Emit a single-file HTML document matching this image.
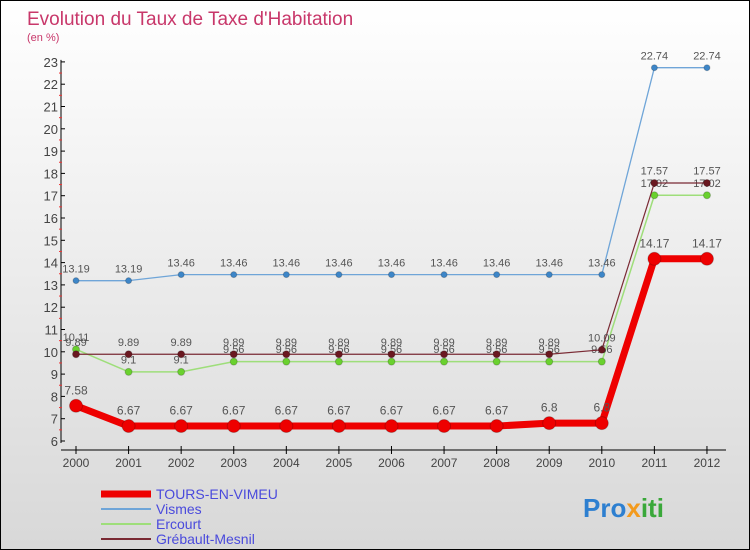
<!DOCTYPE html>
<html><head><meta charset="utf-8"><style>
body{margin:0}
#c{width:750px;height:550px;position:relative;box-sizing:border-box;border:1px solid #000;background:linear-gradient(#fff,#d8d8d8);font-family:"Liberation Sans",sans-serif;overflow:hidden}
</style></head><body>
<div id="c">
<svg id="s" width="750" height="550" style="position:absolute;left:0;top:0" font-family="Liberation Sans, sans-serif">
<text x="26" y="24" font-size="19" fill="#c8376a">Evolution du Taux de Taxe d'Habitation</text>
<text x="26" y="40" font-size="11" fill="#c8376a">(en %)</text>
<g id="g"></g>
<g>
<line x1="100" y1="493" x2="150" y2="493" stroke="#e00" stroke-width="7"/>
<text x="155" y="498" font-size="14" fill="#4a4adc">TOURS-EN-VIMEU</text>
<line x1="100" y1="508" x2="150" y2="508" stroke="#6fa5d8" stroke-width="2"/>
<text x="155" y="513" font-size="14" fill="#4a4adc">Vismes</text>
<line x1="100" y1="523" x2="150" y2="523" stroke="#9ede7a" stroke-width="2"/>
<text x="155" y="528" font-size="14" fill="#4a4adc">Ercourt</text>
<line x1="100" y1="538" x2="150" y2="538" stroke="#7a2a34" stroke-width="2"/>
<text x="155" y="543" font-size="14" fill="#4a4adc">Grébault-Mesnil</text>
</g>
<text x="582" y="516" font-size="26" font-weight="bold"><tspan fill="#2d7fd0">Pro</tspan><tspan fill="#f39a1c">x</tspan><tspan fill="#3aa83a">iti</tspan></text>
</svg>
</div>
<script>
const years=["2000","2001","2002","2003","2004","2005","2006","2007","2008","2009","2010","2011","2012"];
const tours=[7.58,6.67,6.67,6.67,6.67,6.67,6.67,6.67,6.67,6.8,6.8,14.17,14.17];
const vismes=[13.19,13.19,13.46,13.46,13.46,13.46,13.46,13.46,13.46,13.46,13.46,22.74,22.74];
const ercourt=[10.11,9.1,9.1,9.56,9.56,9.56,9.56,9.56,9.56,9.56,9.56,17.02,17.02];
const grebault=[9.89,9.89,9.89,9.89,9.89,9.89,9.89,9.89,9.89,9.89,10.09,17.57,17.57];
const yTicks=[6,7,8,9,10,11,12,13,14,15,16,17,18,19,20,21,22,23];
const NS="http://www.w3.org/2000/svg";
const g=document.getElementById('g');
const X=i=>75+i*52.58;
const Y=v=>440-(v-6)*22.3;
function mk(t,a,p){const e=document.createElementNS(NS,t);for(const k in a)e.setAttribute(k,a[k]);(p||g).appendChild(e);return e;}
// axes
let ax=mk('line',{x1:60,y1:Y(23)-2,x2:60,y2:Y(6)+2,stroke:'#000'});


let xa=mk('line',{x1:60,y1:449,x2:725,y2:449,stroke:'#000'});


yTicks.forEach(v=>{
 mk('line',{x1:60,y1:Y(v),x2:64,y2:Y(v),stroke:'#000'});
 if(v<23)mk('line',{x1:58,y1:Y(v+0.5),x2:61,y2:Y(v+0.5),stroke:'#e33'});
 const t=mk('text',{x:57,y:Y(v)+5,'font-size':13,'text-anchor':'end',fill:'#444'});
 t.textContent=v;
 
 
});
years.forEach((y,i)=>{
 mk('line',{x1:X(i),y1:445,x2:X(i),y2:453,stroke:'#000'});
 const t=mk('text',{x:X(i),y:466,'font-size':12,'text-anchor':'middle',fill:'#444'});
 t.textContent=y;
 
 
});
function series(name,vals,color,w,r,dot,fs){
 const sg=mk('g',{});
 
 
 mk('polyline',{points:vals.map((v,i)=>X(i)+','+Y(v)).join(' '),fill:'none',stroke:color,'stroke-width':w,'stroke-linejoin':'round'},sg);
 vals.forEach((v,i)=>{
  const c=mk('circle',{cx:X(i),cy:Y(v),r:r,fill:dot,stroke:'#0003'},sg);
  
  
  const t=mk('text',{x:X(i),y:Y(v)-(r+5),'font-size':fs,'text-anchor':'middle',fill:'#555'},sg);
  t.textContent=v;
  
  
 });
}
series('vismes-series',vismes,'#6fa5d8',1.3,3,'#3d86c8',11);
series('ercourt-series',ercourt,'#9ede7a',1.5,3.5,'#6ad12e',11);
series('grebault-series',grebault,'#7a2a34',1.2,3.5,'#6a1820',11);
series('tours-series',tours,'#ee0000',7,6.5,'#ee0000',12);
</script>
</body></html>
